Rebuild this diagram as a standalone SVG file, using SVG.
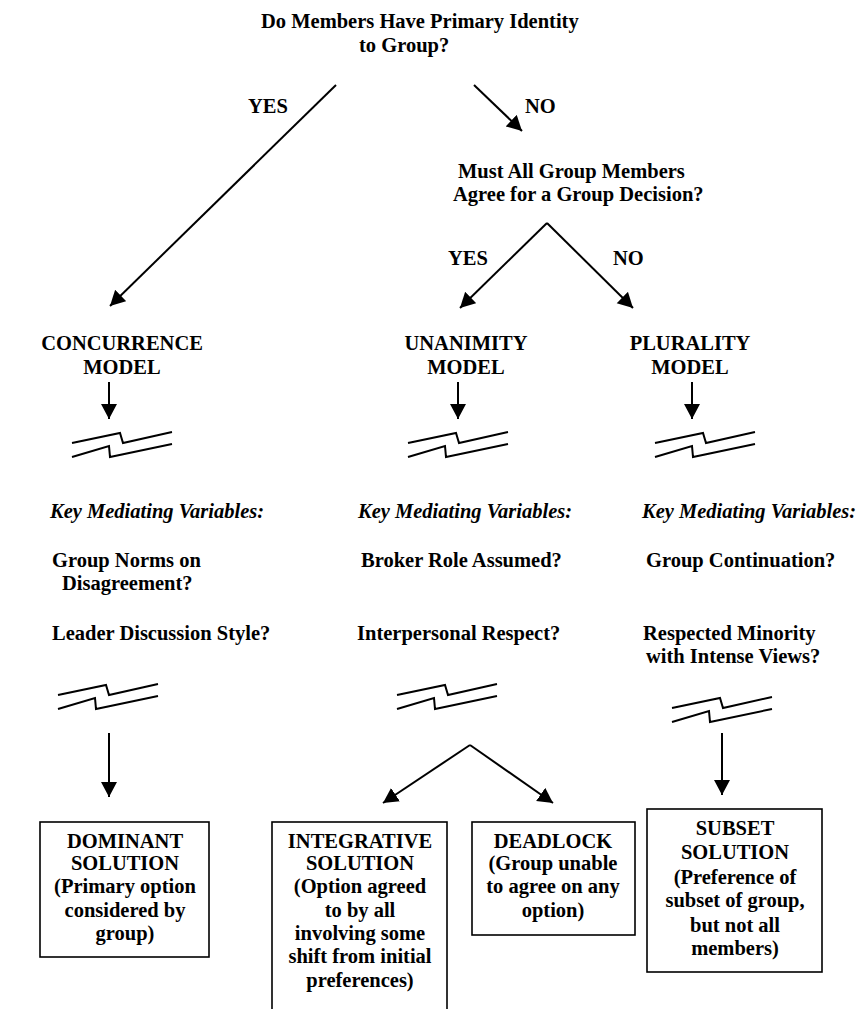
<svg xmlns="http://www.w3.org/2000/svg" xmlns:xlink="http://www.w3.org/1999/xlink" width="862" height="1009" viewBox="0 0 862 1009">
<style>
text{font-family:"Liberation Serif","Times New Roman",serif;font-weight:bold;font-size:20.5px;fill:#000}
.it{font-style:italic}
.c{text-anchor:middle}
.ln{stroke:#000;stroke-width:2;fill:none}
.bx{stroke:#000;stroke-width:1.6;fill:none}
.brk{stroke:#000;stroke-width:2;fill:none;stroke-linejoin:miter}
</style>
<defs>
<marker id="ah" markerUnits="userSpaceOnUse" markerWidth="17" markerHeight="17" refX="15" refY="8" orient="auto">
<path d="M0,0 L15,8 L0,16 z" fill="#000"/>
</marker>
<path id="brkshape" class="brk" d="M0,11 L48,1 L51,11 L100,0 M0,25 L37,14 L38,25 L100,12"/>
</defs>
<rect width="862" height="1009" fill="#fff"/>

<g id="q1">
<text x="261" y="28">Do Members Have Primary Identity</text>
<text x="359" y="52">to Group?</text>
</g>
<g id="q2">
<text x="458" y="178">Must All Group Members</text>
<text x="453" y="201">Agree for a Group Decision?</text>
</g>
<g id="edge-labels">
<text x="248" y="113">YES</text>
<text x="525" y="113">NO</text>
<text x="448" y="265">YES</text>
<text x="613" y="265">NO</text>
</g>

<g id="concurrence">
<text class="c" x="122" y="350">CONCURRENCE</text>
<text class="c" x="122" y="374">MODEL</text>
</g>
<g id="unanimity">
<text class="c" x="466" y="350">UNANIMITY</text>
<text class="c" x="466" y="374">MODEL</text>
</g>
<g id="plurality">
<text class="c" x="690" y="350">PLURALITY</text>
<text class="c" x="690" y="374">MODEL</text>
</g>

<g id="breaks">
<use xlink:href="#brkshape" x="72" y="432"/>
<use xlink:href="#brkshape" x="408" y="432"/>
<use xlink:href="#brkshape" x="655" y="432"/>
<use xlink:href="#brkshape" x="58" y="684"/>
<use xlink:href="#brkshape" x="397" y="684"/>
<use xlink:href="#brkshape" x="672" y="697"/>
</g>

<g id="vars-concurrence">
<text class="it" x="50" y="518">Key Mediating Variables:</text>
<text x="52" y="567">Group Norms on</text>
<text x="62" y="590">Disagreement?</text>
<text x="52" y="640">Leader Discussion Style?</text>
</g>
<g id="vars-unanimity">
<text class="it" x="358" y="518">Key Mediating Variables:</text>
<text x="361" y="567">Broker Role Assumed?</text>
<text x="357" y="640">Interpersonal Respect?</text>
</g>
<g id="vars-plurality">
<text class="it" x="642" y="518">Key Mediating Variables:</text>
<text x="646" y="567">Group Continuation?</text>
<text x="643" y="640">Respected Minority</text>
<text x="646" y="663">with Intense Views?</text>
</g>

<g id="connectors">
<line class="ln" x1="336" y1="85" x2="110" y2="306" marker-end="url(#ah)"/>
<line class="ln" x1="474" y1="85" x2="522" y2="131" marker-end="url(#ah)"/>
<line class="ln" x1="547" y1="223" x2="460" y2="308" marker-end="url(#ah)"/>
<line class="ln" x1="547" y1="223" x2="633" y2="308" marker-end="url(#ah)"/>
<line class="ln" x1="109" y1="382" x2="109" y2="419" marker-end="url(#ah)"/>
<line class="ln" x1="458" y1="382" x2="458" y2="419" marker-end="url(#ah)"/>
<line class="ln" x1="692" y1="382" x2="692" y2="419" marker-end="url(#ah)"/>
<line class="ln" x1="109" y1="733" x2="109" y2="797" marker-end="url(#ah)"/>
<line class="ln" x1="722" y1="733" x2="722" y2="795" marker-end="url(#ah)"/>
<line class="ln" x1="470" y1="745" x2="383" y2="803" marker-end="url(#ah)"/>
<line class="ln" x1="470" y1="745" x2="553" y2="803" marker-end="url(#ah)"/>
</g>

<g id="dominant">
<rect class="bx" x="40" y="822" width="169" height="135"/>
<text class="c" x="125" y="848">DOMINANT</text>
<text class="c" x="125" y="870">SOLUTION</text>
<text class="c" x="125" y="893">(Primary option</text>
<text class="c" x="125" y="917">considered by</text>
<text class="c" x="125" y="940">group)</text>
</g>
<g id="integrative">
<rect class="bx" x="272" y="822" width="175" height="200"/>
<text class="c" x="360" y="848">INTEGRATIVE</text>
<text class="c" x="360" y="870">SOLUTION</text>
<text class="c" x="360" y="893">(Option agreed</text>
<text class="c" x="360" y="917">to by all</text>
<text class="c" x="360" y="940">involving some</text>
<text class="c" x="360" y="963">shift from initial</text>
<text class="c" x="360" y="987">preferences)</text>
</g>
<g id="deadlock">
<rect class="bx" x="472" y="822" width="163" height="113"/>
<text class="c" x="553" y="848">DEADLOCK</text>
<text class="c" x="553" y="870">(Group unable</text>
<text class="c" x="553" y="893">to agree on any</text>
<text class="c" x="553" y="917">option)</text>
</g>
<g id="subset">
<rect class="bx" x="647" y="809" width="175" height="163"/>
<text class="c" x="735" y="835">SUBSET</text>
<text class="c" x="735" y="859">SOLUTION</text>
<text class="c" x="735" y="884">(Preference of</text>
<text class="c" x="735" y="907">subset of group,</text>
<text class="c" x="735" y="932">but not all</text>
<text class="c" x="735" y="955">members)</text>
</g>
</svg>
